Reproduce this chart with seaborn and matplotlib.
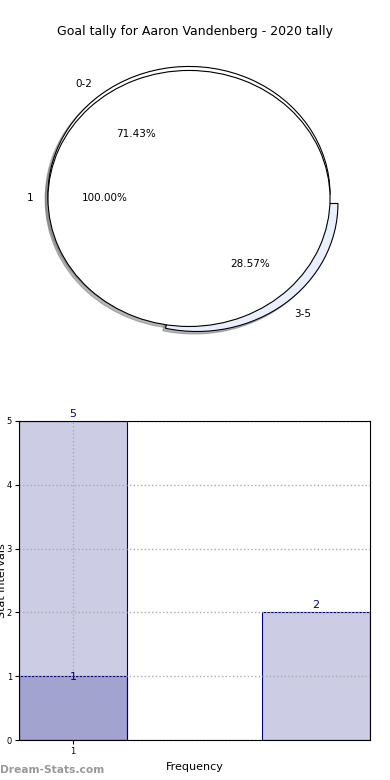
import numpy as np
import pandas as pd
import matplotlib
matplotlib.use("Agg")
import matplotlib.pyplot as plt
import seaborn as sns

# ---------------- data ----------------
title = "Goal tally for Aaron Vandenberg - 2020 tally"
outer_labels = ["0-2", "3-5"]
outer_values = [5, 2]
inner_labels = ["1"]
inner_values = [1]

bar_positions = [1, 3.25]
bar_heights = [5, 2]
overlay_positions = [1]
overlay_heights = [1]
x_ticks = [1]
y_ticks = [0, 1, 2, 3, 4, 5]

# ---------------- style ----------------
sns.set_style("white")
plt.rcParams["font.family"] = ["DejaVu Sans"]
plt.rcParams["text.color"] = "black"
plt.rcParams["axes.labelcolor"] = "black"
plt.rcParams["xtick.color"] = "black"
plt.rcParams["ytick.color"] = "black"

fig = plt.figure(figsize=(3.9, 7.8), dpi=100)

# ---------------- pie ----------------
ax1 = fig.add_axes([0.0417, 0.5404, 0.904, 0.4103])
wp = dict(edgecolor="black", linewidth=0.8)
tp = dict(fontsize=7.5, color="black")
sh = dict(ox=-0.014, oy=-0.014, shade=0.55)
ax1.pie(outer_values, labels=outer_labels, autopct="%1.2f%%",
        explode=[0.04, 0.05], shadow=sh,
        colors=["white", "#e9effc"], wedgeprops=wp, textprops=tp)
ax1.pie(inner_values, labels=inner_labels, autopct="%1.2f%%",
        explode=[0.025], shadow=sh, colors=["white"],
        wedgeprops=wp, textprops=tp)
ax1.set_aspect("auto")
ax1.set_xlim(-1.25, 1.25)
ax1.set_ylim(-1.25, 1.25)

fig.text(0.5, 1 - 31 / 780, title, ha="center", va="center", fontsize=9)

# ---------------- bars ----------------
ax2 = fig.add_axes([19 / 390, 40 / 780, 351 / 390, 319 / 780])
df_main = pd.DataFrame({"x": bar_positions, "y": bar_heights})
df_over = pd.DataFrame({"x": overlay_positions, "y": overlay_heights})

main_width = 1 / np.min(np.diff(bar_positions))
sns.barplot(data=df_main, x="x", y="y", native_scale=True, width=main_width,
            color="navy", saturation=1, errorbar=None, ax=ax2)
sns.barplot(data=df_over, x="x", y="y", native_scale=True, width=1,
            color="navy", saturation=1, errorbar=None, ax=ax2)

for p in ax2.patches:
    p.set_alpha(None)
    p.set_facecolor((0, 0, 0.5, 0.2))
    p.set_edgecolor("navy")
    p.set_linewidth(0.8)

ax2.bar_label(ax2.containers[0], color="navy", fontsize=8, padding=1.5)
ax2.bar_label(ax2.containers[1], color="navy", fontsize=8, padding=-4)

ax2.set_xlim(0.5, 3.75)
ax2.set_ylim(0, 5)
ax2.set_xticks(x_ticks)
ax2.set_xticklabels([str(v) for v in x_ticks])
ax2.set_yticks(y_ticks)
ax2.tick_params(labelsize=6, length=3, width=0.8, direction="out",
                left=True, bottom=True, pad=2)
ax2.grid(True, linestyle=":", color="#aaaaaa", linewidth=1.0)
ax2.set_axisbelow(False)
for s in ax2.spines.values():
    s.set_visible(True)
    s.set_color("black")
    s.set_linewidth(0.8)
    s.set_zorder(3)
ax2.set_xlabel("Frequency", fontsize=8, labelpad=4)
ax2.set_ylabel("Stat intervals", fontsize=8)
ax2.yaxis.set_label_coords(-0.034, 0.5)

fig.text(0.0, 1 - 770 / 780, "Dream-Stats.com", color="#999999",
         fontsize=7.7, fontweight="bold", ha="left", va="center")

fig.savefig("out.png", dpi=100)
